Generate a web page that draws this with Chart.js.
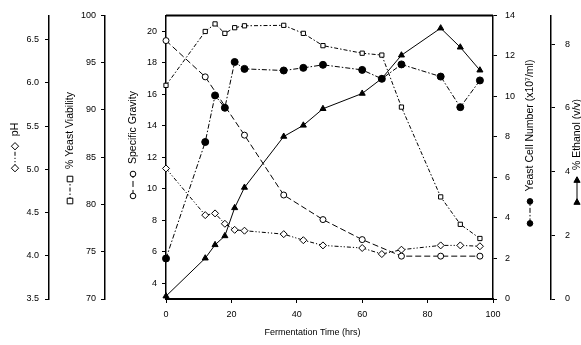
<!DOCTYPE html>
<html><head><meta charset="utf-8">
<script src="https://cdn.jsdelivr.net/npm/chart.js@4/dist/chart.umd.min.js"></script>
<style>html,body{margin:0;padding:0;background:#fff;}canvas{display:block;}</style>
</head><body>
<canvas id="c" width="581" height="345"></canvas>
<script>
// ---- data ----
const hours = [0, 12, 15, 18, 21, 24, 36, 42, 48, 60, 66, 72, 84, 90, 96];
const yeastCells = [2.0, 7.75, 10.05, 9.44, 11.7, 11.36, 11.28, 11.41, 11.56, 11.31, 10.87, 11.58, 10.98, 9.47, 10.79];
const ethanol = [0.09, 1.28, 1.7, 1.98, 2.86, 3.5, 5.1, 5.45, 5.97, 6.45, 6.92, 7.65, 8.5, 7.9, 7.18];
const viability = [92.6, 98.3, 99.1, 98.1, 98.7, 98.9, 98.95, 98.1, 96.8, 96.0, 95.8, 90.3, 80.8, 77.9, 76.4];
const pH = [5.01, 4.47, 4.49, 4.37, 4.30, 4.29, 4.25, 4.18, 4.12, 4.09, 4.02, 4.07, 4.12, 4.12, 4.11];
const gravityHours = [0, 12, 24, 36, 48, 60, 72, 84, 96];
const gravity = [19.4, 17.1, 13.4, 9.6, 8.04, 6.77, 5.72, 5.72, 5.72];

// ---- tick labels ----
const timeTicks = [0, 20, 40, 60, 80, 100];
const pHTicks = [3.5, 4.0, 4.5, 5.0, 5.5, 6.0, 6.5];
const viabilityTicks = [70, 75, 80, 85, 90, 95, 100];
const gravityTicks = [4, 6, 8, 10, 12, 14, 16, 18, 20];
const cellTicks = [0, 2, 4, 6, 8, 10, 12, 14];
const ethanolTicks = [0, 2, 4, 6, 8];

// ---- titles ----
const timeTitle = 'Fermentation Time (hrs)';
const pHTitle = 'pH';
const viabilityTitle = '% Yeast Viability';
const gravityTitle = 'Specific Gravity';
const cellTitle = 'Yeast Cell Number (x10\u2077/ml)';
const ethanolTitle = '% Ethanol (v/v)';

const FONT = "'Liberation Sans', Arial, 'DejaVu Sans', sans-serif";
const tickFont = { family: FONT, size: 9 };

const pts = (xs, ys) => xs.map((x, i) => ({ x, y: ys[i] }));

function yScale(pos, weight, width, min, max, ticks, pad, fmt) {
  return {
    type: 'linear', position: pos, weight, min, max,
    afterFit: s => { s.width = width; },
    afterBuildTicks: s => { s.ticks = ticks.map(v => ({ value: v })); },
    ticks: { font: tickFont, color: '#000', padding: pad, callback: fmt || (v => String(v)) },
    grid: { drawOnChartArea: false, drawTicks: true, tickLength: 4, color: '#000', lineWidth: 1 },
    border: { display: true, color: '#000', width: 1.5 }
  };
}

const series = [
  { label: 'Ethanol', data: pts(hours, ethanol), yAxisID: 'yEth', pointStyle: 'triangle', filled: true, dash: [], radius: 3.5 },
  { label: 'Yeast cells', data: pts(hours, yeastCells), yAxisID: 'yCells', pointStyle: 'circle', filled: true, dash: [5, 2, 1.5, 2], radius: 3.5 },
  { label: 'Viability', data: pts(hours, viability), yAxisID: 'yVia', pointStyle: 'rect', filled: false, dash: [4, 2, 1.5, 2], radius: 3 },
  { label: 'Specific gravity', data: pts(gravityHours, gravity), yAxisID: 'yGrav', pointStyle: 'circle', filled: false, dash: [6, 3], radius: 3 },
  { label: 'pH', data: pts(hours, pH), yAxisID: 'yPH', pointStyle: 'rectRot', filled: false, dash: [4, 2, 1.2, 2, 1.2, 2], radius: 3.5 }
];

function drawMarker(ctx, style, x, y, r, filled) {
  ctx.beginPath();
  if (style === 'circle') ctx.arc(x, y, r, 0, Math.PI * 2);
  else if (style === 'rect') ctx.rect(x - r, y - r, 2 * r, 2 * r);
  else if (style === 'rectRot') { ctx.moveTo(x + r * 1.3, y); ctx.lineTo(x, y - r * 1.3); ctx.lineTo(x - r * 1.3, y); ctx.lineTo(x, y + r * 1.3); ctx.closePath(); }
  else if (style === 'triangle') { ctx.moveTo(x + r * 1.2, y); ctx.lineTo(x - r * 0.8, y - r * 1.1); ctx.lineTo(x - r * 0.8, y + r * 1.1); ctx.closePath(); }
  ctx.setLineDash([]);
  ctx.fillStyle = filled ? '#000' : '#fff';
  ctx.fill(); ctx.stroke();
}

const axisTitles = [
  { scale: 'yPH', dx: 15, cy: 147, text: pHTitle, s: series[4] },
  { scale: 'yVia', dx: 21, cy: 148, text: viabilityTitle, s: series[2] },
  { scale: 'yGrav', dx: 28, cy: 145, text: gravityTitle, s: series[3] },
  { scale: 'yCells', dx: 37, cy: 143, text: cellTitle, s: series[1] },
  { scale: 'yEth', dx: 26, cy: 152, text: ethanolTitle, s: series[0] }
];

const decor = {
  id: 'decor',
  beforeDraw(chart) {
    const ctx = chart.ctx;
    ctx.save(); ctx.fillStyle = '#fff'; ctx.fillRect(0, 0, chart.width, chart.height); ctx.restore();
  },
  afterDraw(chart) {
    const ctx = chart.ctx, a = chart.chartArea;
    ctx.save();
    // top frame line
    ctx.strokeStyle = '#000'; ctx.lineWidth = 2;
    ctx.beginPath(); ctx.moveTo(a.left, a.top); ctx.lineTo(a.right, a.top); ctx.stroke();
    // x title
    ctx.fillStyle = '#000'; ctx.font = '9px ' + FONT; ctx.textAlign = 'center'; ctx.textBaseline = 'middle';
    ctx.fillText(timeTitle, (a.left + a.right) / 2 - 17, a.bottom + 34);
    // rotated y titles with legend glyphs
    ctx.font = '10.5px ' + FONT;
    axisTitles.forEach(t => {
      const sc = chart.scales[t.scale];
      const cx = sc.left + t.dx;
      ctx.save();
      ctx.translate(cx, t.cy); ctx.rotate(-Math.PI / 2);
      const tw = ctx.measureText(t.text).width;
      const symLen = 28, gap = 7, L = symLen + gap + tw, s0 = -L / 2;
      ctx.strokeStyle = '#000'; ctx.lineWidth = 1;
      ctx.setLineDash(t.s.dash);
      ctx.beginPath(); ctx.moveTo(s0 + 3, 0); ctx.lineTo(s0 + symLen - 3, 0); ctx.stroke();
      drawMarker(ctx, t.s.pointStyle, s0 + 3, 0, 2.8, t.s.filled);
      drawMarker(ctx, t.s.pointStyle, s0 + symLen - 3, 0, 2.8, t.s.filled);
      ctx.fillStyle = '#000'; ctx.textAlign = 'left'; ctx.textBaseline = 'middle';
      ctx.fillText(t.text, s0 + symLen + gap, 0);
      ctx.restore();
    });
    ctx.restore();
  }
};

new Chart(document.getElementById('c'), {
  type: 'line',
  data: {
    datasets: series.map(s => ({
      label: s.label, data: s.data, yAxisID: s.yAxisID,
      borderColor: '#000', borderWidth: 1, borderDash: s.dash,
      pointStyle: s.pointStyle, pointRadius: s.radius, pointBorderWidth: 1,
      pointBorderColor: '#000', pointBackgroundColor: s.filled ? '#000' : '#fff',
      fill: false, tension: 0, clip: false
    }))
  },
  options: {
    responsive: false, animation: false, devicePixelRatio: 1,
    layout: { padding: { left: 0, right: 0, top: 15, bottom: 6 } },
    plugins: { legend: { display: false }, tooltip: { enabled: false } },
    scales: {
      x: {
        type: 'linear', position: 'bottom', min: 0, max: 100,
        afterFit: s => { s.height = 40; },
        afterBuildTicks: s => { s.ticks = timeTicks.map(v => ({ value: v })); },
        ticks: { font: tickFont, color: '#000', padding: 6 },
        grid: { drawOnChartArea: false, drawTicks: true, tickLength: 4, color: '#000', lineWidth: 1 },
        border: { display: true, color: '#000', width: 2 }
      },
      yPH: yScale('left', 3, 49, 3.5, 6.78, pHTicks, 6, v => v.toFixed(1)),
      yVia: yScale('left', 2, 56, 70, 100, viabilityTicks, 5),
      yGrav: yScale('left', 1, 61, 3, 21, gravityTicks, 5),
      yCells: yScale('right', 1, 58, 0, 14, cellTicks, 8),
      yEth: yScale('right', 2, 30, 0, 8.9, ethanolTicks, 10)
    }
  },
  plugins: [decor]
});
</script>
</body></html>
